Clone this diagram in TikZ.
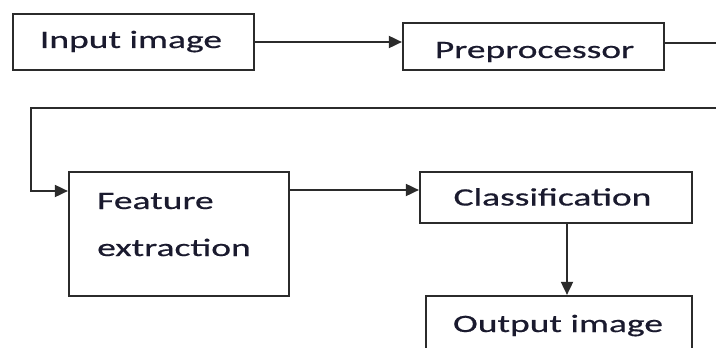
\documentclass[tikz,border=0pt]{standalone}
\usepackage{fontspec}
\setmainfont{Carlito}[FakeStretch=1.5,FakeBold=0.6]
\usetikzlibrary{arrows.meta}
\definecolor{linecol}{HTML}{2B2B2B}
\definecolor{txtcol}{HTML}{1A1A2E}
\tikzset{
  blockbox/.style={draw=linecol, line width=2.2pt, rectangle, inner sep=0pt, fill=none},
  lbl/.style={inner sep=0pt, anchor=base, text=txtcol, font=\fontsize{25}{30}\selectfont},
  conn/.style={draw=linecol, line width=1.8pt},
  arr/.style={conn, -{Triangle[length=13pt,width=12pt]}}
}
\begin{document}
\begin{tikzpicture}[x=1pt,y=-1pt]
\useasboundingbox (0,0) rectangle (716,348);
\clip (0,0) rectangle (716,348);
\fill[white] (0,0) rectangle (716,348);
% boxes
\node[blockbox, minimum width=241pt, minimum height=56pt] (inbox) at (133.5,42) {};
\node[blockbox, minimum width=261pt, minimum height=47pt] (prebox) at (533.5,46.5) {};
\node[blockbox, minimum width=220pt, minimum height=124pt] (febox) at (179,234) {};
\node[blockbox, minimum width=272pt, minimum height=51pt] (clbox) at (556,197.5) {};
\node[blockbox, minimum width=266pt, minimum height=80pt] (outbox) at (559,336) {};
% labels
\node[lbl] (intxt) at (131,48) {Input image};
\node[lbl] (pretxt) at (534.5,58) {Preprocessor};
\node[lbl, anchor=base west] (fetxt1) at (97,209) {Feature};
\node[lbl, anchor=base west] (fetxt2) at (97,256) {extraction};
\node[lbl] (cltxt) at (552.5,205.5) {Classification};
\node[lbl] (outtxt) at (558,332) {Output image};
% connector helper coordinates
\coordinate (preR) at (664,43);
\coordinate (edgeA) at (720,43);
\coordinate (edgeB) at (720,108);
\coordinate (turnA) at (31,108);
\coordinate (feIn) at (31,191);
\coordinate (feR) at (289,190);
\coordinate (clBot) at (567,223);
% connectors
\draw[arr] (inbox.east) -- (inbox.east -| prebox.west);
\draw[conn] (preR) -- (edgeA);
\draw[arr] (edgeB) -- (turnA) -- (feIn) -- (feIn -| febox.west);
\draw[arr] (feR) -- (feR -| clbox.west);
\draw[arr] (clBot) -- (clBot |- outbox.north);
\end{tikzpicture}
\end{document}
